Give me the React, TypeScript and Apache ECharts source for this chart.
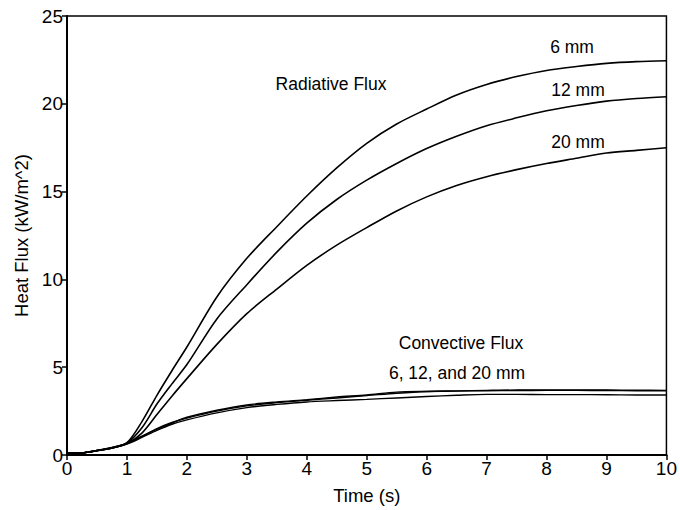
import React, { useEffect, useRef } from "react";
import * as echarts from "echarts";

const times = [0, 0.25, 0.5, 0.75, 1, 1.25, 1.5, 1.75, 2, 2.5, 3, 3.5, 4, 4.5, 5, 5.5, 6, 6.5, 7, 7.5, 8, 8.5, 9, 9.5, 10];

const rad6 = [0.1, 0.12, 0.25, 0.4, 0.7, 1.9, 3.4, 4.8, 6.15, 9.0, 11.2, 13.0, 14.75, 16.35, 17.75, 18.85, 19.7, 20.5, 21.1, 21.55, 21.9, 22.12, 22.3, 22.4, 22.45];
const rad12 = [0.1, 0.12, 0.25, 0.4, 0.68, 1.55, 2.9, 4.05, 5.15, 7.75, 9.7, 11.55, 13.2, 14.55, 15.65, 16.6, 17.45, 18.15, 18.75, 19.2, 19.6, 19.9, 20.15, 20.3, 20.4];
const rad20 = [0.1, 0.12, 0.25, 0.4, 0.65, 1.25, 2.3, 3.35, 4.35, 6.3, 8.05, 9.45, 10.8, 11.95, 12.95, 13.9, 14.7, 15.35, 15.85, 16.25, 16.6, 16.9, 17.2, 17.35, 17.5];
const conv6 = [0.1, 0.12, 0.25, 0.42, 0.65, 1.05, 1.5, 1.85, 2.1, 2.5, 2.8, 2.98, 3.12, 3.25, 3.38, 3.52, 3.62, 3.65, 3.68, 3.7, 3.7, 3.7, 3.7, 3.69, 3.68];
const conv12 = [0.1, 0.12, 0.26, 0.43, 0.66, 1.08, 1.47, 1.82, 2.15, 2.55, 2.85, 3.02, 3.15, 3.3, 3.42, 3.58, 3.62, 3.64, 3.66, 3.67, 3.68, 3.68, 3.67, 3.66, 3.66];
const conv20 = [0.1, 0.12, 0.24, 0.4, 0.62, 1.0, 1.4, 1.75, 2.0, 2.4, 2.7, 2.88, 3.02, 3.1, 3.17, 3.25, 3.33, 3.4, 3.45, 3.45, 3.44, 3.44, 3.43, 3.42, 3.42];

const xTicks = [0, 1, 2, 3, 4, 5, 6, 7, 8, 9, 10];
const yTicks = [0, 5, 10, 15, 20, 25];

const FONT = "Liberation Sans, Arial, Helvetica, sans-serif";

const pair = (vals: number[]) => times.map((t, i) => [t, vals[i]]);

export default function App() {
  const ref = useRef<HTMLDivElement>(null);
  useEffect(() => {
    if (!ref.current) return;
    const chart = echarts.init(ref.current, undefined, { renderer: "svg" });
    const line = (name: string, vals: number[], w = 1.6) => ({
      name,
      type: "line",
      data: pair(vals),
      showSymbol: false,
      symbol: "none",
      smooth: 0.3,
      lineStyle: { color: "#000", width: w },
      z: 3,
    });
    const label = (text: string, x: number, y: number) => ({
      type: "text",
      x,
      y,
      style: { text, font: `17.5px ${FONT}`, fill: "#000", align: "center", verticalAlign: "middle" },
    });
    chart.setOption({
      animation: false,
      backgroundColor: "#fff",
      grid: {
        left: 67,
        right: 11,
        top: 16,
        bottom: 53,
        show: true,
        borderColor: "#000",
        borderWidth: 1.5,
        backgroundColor: "transparent",
      },
      xAxis: {
        type: "value",
        min: xTicks[0],
        max: xTicks[xTicks.length - 1],
        interval: 1,
        name: "Time (s)",
        nameLocation: "middle",
        nameGap: 31,
        nameTextStyle: { fontFamily: FONT, fontSize: 18.5, color: "#000" },
        axisLine: { show: true, onZero: false, lineStyle: { color: "#000", width: 2 } },
        axisTick: { show: true, inside: false, length: 5, lineStyle: { color: "#000", width: 1.5 } },
        axisLabel: { fontFamily: FONT, fontSize: 19, color: "#000", margin: 4 },
        splitLine: { show: false },
      },
      yAxis: {
        type: "value",
        min: yTicks[0],
        max: yTicks[yTicks.length - 1],
        interval: 5,
        name: "Heat Flux (kW/m^2)",
        nameLocation: "middle",
        nameGap: 36,
        nameTextStyle: { fontFamily: FONT, fontSize: 18.5, color: "#000" },
        axisLine: { show: true, onZero: false, lineStyle: { color: "#000", width: 2 } },
        axisTick: { show: true, inside: false, length: 5, lineStyle: { color: "#000", width: 1.5 } },
        axisLabel: { fontFamily: FONT, fontSize: 19, color: "#000", margin: 4 },
        splitLine: { show: false },
      },
      series: [
        line("6 mm radiative", rad6),
        line("12 mm radiative", rad12),
        line("20 mm radiative", rad20),
        line("6 mm convective", conv6, 1.4),
        line("12 mm convective", conv12, 1.4),
        line("20 mm convective", conv20, 1.4),
      ],
      graphic: [
        label("Radiative Flux", 331, 84),
        label("6 mm", 572, 47),
        label("12 mm", 578, 90),
        label("20 mm", 578, 142),
        label("Convective Flux", 461, 343),
        label("6, 12, and 20 mm", 457, 373),
      ],
    });
    return () => chart.dispose();
  }, []);
  return <div ref={ref} style={{ width: 680, height: 510, position: "absolute", left: 0, top: 0 }} />;
}
